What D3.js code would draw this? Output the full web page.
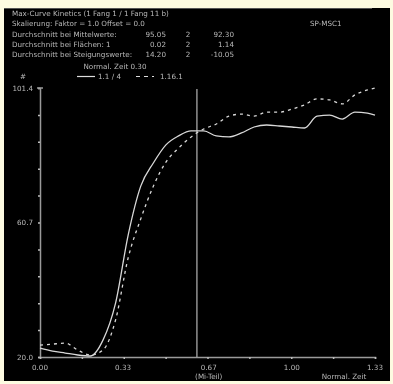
<!DOCTYPE html>
<html>
<head>
<meta charset="utf-8">
<script src="https://cdn.jsdelivr.net/npm/d3@7"></script>
<style>
  body { margin: 0; background: #fdfbe1; }
  svg { display: block; filter: blur(0.45px); }
  text { font-family: "DejaVu Sans", sans-serif; fill: #b8b8b8; }
</style>
</head>
<body>
<div class="chart"></div>
<script>
// time axis (normalised), sampled every 0.05
const times = [0.00, 0.05, 0.10, 0.15, 0.20, 0.25, 0.30, 0.35, 0.40, 0.45, 0.50, 0.55, 0.60, 0.65,
  0.70, 0.75, 0.80, 0.85, 0.90, 0.95, 1.00, 1.05, 1.10, 1.15, 1.20, 1.25, 1.30, 1.33];
const series1 = [22.7, 21.8, 21.2, 20.6, 20.3, 25.1, 36.3, 56.9, 71.7, 78.7, 84.2, 86.9, 88.4, 88.4,
  86.9, 86.6, 87.8, 89.6, 90.2, 89.9, 89.6, 89.3, 92.9, 93.2, 92.0, 94.1, 93.8, 93.2];
const series2 = [23.6, 23.9, 24.2, 22.1, 20.6, 22.1, 31.2, 50.0, 61.8, 71.7, 79.0, 83.2, 86.6, 89.0,
  90.5, 92.9, 93.5, 92.9, 94.1, 94.1, 95.0, 96.3, 98.1, 97.8, 96.6, 99.3, 100.8, 101.4];
const seriesNames = ['1.1 / 4', '1.16.1'];
const xTicks = [0, 0.33, 0.67, 1.00, 1.33];
const xTickLabels = ['0.00', '0.33', '0.67', '1.00', '1.33'];
const yTicks = [20.0, 60.7, 101.4];
const cursorTime = 0.623;
const headerLines = [
  'Max-Curve Kinetics (1 Fang 1 / 1 Fang 11 b)',
  'Skalierung:   Faktor = 1.0   Offset = 0.0'
];
const statLabels = ['Durchschnitt bei Mittelwerte:', 'Durchschnitt bei Flächen:  1', 'Durchschnitt bei Steigungswerte:'];
const statValues1 = ['95.05', '0.02', '14.20'];
const statValues2 = ['92.30', '1.14', '-10.05'];

const svg = d3.select('.chart').append('svg')
  .attr('width', 393)
  .attr('height', 384);

// black panel
svg.append('rect').attr('x', 4).attr('y', 8).attr('width', 386).attr('height', 373).attr('fill', '#000');
svg.append('line').attr('x1', 4).attr('x2', 372).attr('y1', 8.5).attr('y2', 8.5)
  .attr('stroke', '#555').attr('stroke-width', 1);

// header
headerLines.forEach((t, i) => {
  svg.append('text').attr('x', 12).attr('y', 16 + i * 10.3).attr('font-size', 7.2).text(t);
});
svg.append('text').attr('x', 310).attr('y', 26.3).attr('font-size', 7.2).text('SP-MSC1');
statLabels.forEach((t, i) => {
  const y = 36.6 + i * 10.3;
  svg.append('text').attr('x', 12).attr('y', y).attr('font-size', 7.2).text(t);
  svg.append('text').attr('x', 166).attr('y', y).attr('font-size', 7.2).attr('text-anchor', 'end').text(statValues1[i]);
  svg.append('text').attr('x', 188).attr('y', y).attr('font-size', 7.2).attr('text-anchor', 'middle').text('2');
  svg.append('text').attr('x', 234).attr('y', y).attr('font-size', 7.2).attr('text-anchor', 'end').text(statValues2[i]);
});
svg.append('text').attr('x', 115).attr('y', 69).attr('font-size', 7.2).attr('text-anchor', 'middle').text('Normal. Zeit 0.30');

const margin = {top: 88, right: 18, bottom: 27, left: 40};
const x = d3.scaleLinear().domain([0, 1.33]).range([margin.left, 393 - margin.right]);
const y = d3.scaleLinear().domain([20.0, 101.4]).range([384 - margin.bottom, margin.top]);

// legend
const leg = svg.append('g').attr('transform', 'translate(0,79)');
leg.append('text').attr('x', 20).attr('y', 0).attr('font-size', 7.2).text('#');
leg.append('line').attr('x1', 77).attr('x2', 95).attr('y1', -2.5).attr('y2', -2.5).attr('stroke', '#ddd').attr('stroke-width', 1.2);
leg.append('text').attr('x', 98).attr('y', 0).attr('font-size', 7.2).text(seriesNames[0]);
leg.append('line').attr('x1', 136).attr('x2', 154).attr('y1', -2.5).attr('y2', -2.5).attr('stroke', '#ddd')
  .attr('stroke-width', 1.2).attr('stroke-dasharray', '4,4');
leg.append('text').attr('x', 160).attr('y', 0).attr('font-size', 7.2).text(seriesNames[1]);

// axes
const axisColor = '#9a9a9a';
const yAxis = svg.append('g').attr('transform', `translate(${margin.left},0)`)
  .call(d3.axisLeft(y).tickValues(d3.range(0, 11).map(i => 20 + i * 8.14)).tickSize(2).tickFormat(''));
const xAxis = svg.append('g').attr('transform', `translate(0,${y(20)})`)
  .call(d3.axisBottom(x).tickValues(d3.range(0, 9).map(i => i * 1.33 / 8)).tickSize(2).tickFormat(''));
[yAxis, xAxis].forEach(a => {
  a.selectAll('path').attr('stroke', axisColor).attr('stroke-width', 1.5);
  a.selectAll('line').attr('stroke', '#bbb').attr('stroke-width', 1.5);
});
svg.append('line').attr('x1', margin.left - 3).attr('x2', margin.left + 3)
  .attr('y1', y(101.4)).attr('y2', y(101.4)).attr('stroke', axisColor).attr('stroke-width', 1.5);

yTicks.forEach(v => {
  svg.append('text').attr('x', 33).attr('y', y(v) + 2.5).attr('font-size', 7.2)
    .attr('text-anchor', 'end').text(v.toFixed(1));
});
xTicks.forEach((v, i) => {
  svg.append('text').attr('x', x(v)).attr('y', 370).attr('font-size', 7.2)
    .attr('text-anchor', 'middle').text(xTickLabels[i]);
});
svg.append('text').attr('x', x(0.67)).attr('y', 379).attr('font-size', 7.2).attr('text-anchor', 'middle').text('(Mi-Teil)');
svg.append('text').attr('x', 344).attr('y', 379).attr('font-size', 7.2).attr('text-anchor', 'middle').text('Normal. Zeit');

// cursor
svg.append('line').attr('x1', x(cursorTime)).attr('x2', x(cursorTime))
  .attr('y1', 89).attr('y2', y(20)).attr('stroke', '#b5b5b5').attr('stroke-width', 1.2);

// curves
const line = d3.line().x(d => x(d[0])).y(d => y(d[1])).curve(d3.curveMonotoneX);
svg.append('path').datum(times.map((t, i) => [t, series1[i]]))
  .attr('d', line).attr('fill', 'none').attr('stroke', '#d8d8d8').attr('stroke-width', 1.3);
svg.append('path').datum(times.map((t, i) => [t, series2[i]]))
  .attr('d', line).attr('fill', 'none').attr('stroke', '#d8d8d8').attr('stroke-width', 1.3)
  .attr('stroke-dasharray', '3,4');
</script>
</body>
</html>
